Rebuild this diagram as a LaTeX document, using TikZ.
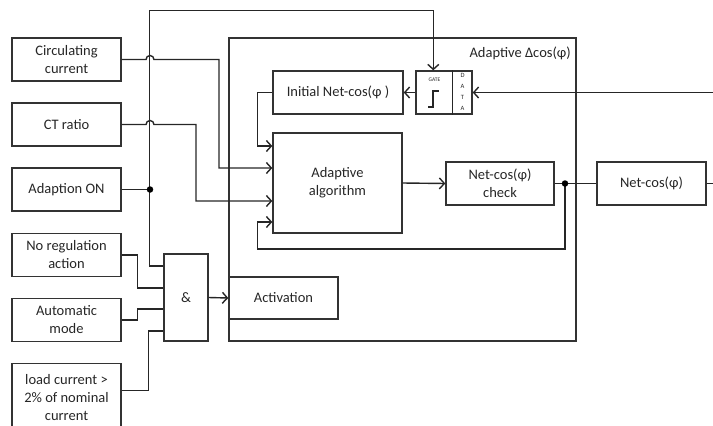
\documentclass[tikz,border=0pt]{standalone}
\usepackage{fontspec}
\setmainfont{Carlito}
\usetikzlibrary{arrows.meta,positioning,calc}

\begin{document}
\begin{tikzpicture}[x=1pt, y=-1pt, font=\fontsize{14.5}{18}\selectfont, every node/.style={inner sep=2pt, text=black!85}]
        \tikzset{
            p/.style={draw=black!80, line width=1.4pt, align=center, minimum width=109pt, minimum height=43pt},
            ln/.style={line width=1.4pt, draw=black!85},
            arr/.style={ln, -{Straight Barb[length=5pt, width=11pt]}},
            jn/.style={circle, fill=black, inner sep=0pt, minimum size=6.5pt}
        }
        \clip (0,0) rectangle (713,426);
        % inputs on the left
        \node[p] (circ) at (66.5,59.5) {Circulating\\current};
        \node[p] (ct) at (66.5,124.5) {CT ratio};
        \node[p] (adon) at (66.5,189.5) {Adaption ON};
        \node[p] (noreg) at (66.5,255) {No regulation\\action};
        \node[p] (auto) at (66.5,320) {Automatic\\mode};
        \node[p, minimum height=68pt, anchor=north] (load) at (66.5,363) {load current >\\2\% of nominal\\current};
        % adaptive block
        \node[p, minimum width=347pt, minimum height=303pt] (adp) at (402.5,189.5) {};
        \node[anchor=east] (adpt) at (573,53) {Adaptive Δcos(φ)};
        \node[p, minimum width=130pt] (init) at (338,92.5) {Initial Net-cos(φ )};
        \node[p, minimum width=56pt] (gate) at (444,92.5) {};
        \node[p, minimum width=129pt, minimum height=100pt] (alg) at (337.5,183) {Adaptive\\algorithm};
        \node[p, minimum width=108pt] (check) at (500,183.5) {Net-cos(φ)\\check};
        \node[p] (out) at (651.5,183.5) {Net-cos(φ)};
        \node[p, minimum width=44pt, minimum height=87pt] (and) at (186,297.5) {\&};
        \node[p, minimum height=42pt] (act) at (283.5,298) {Activation};
        % gate details
        \draw[ln] ($(gate.north west)+(37,0)$) -- ($(gate.south west)+(37,0)$);
        \node[font=\fontsize{5.5}{6}\selectfont] (gl) at (434.5,80) {GATE};
        \draw[line width=1.1pt, black!85] (428,107) -- (433,107) -- (433,91) -- (439,91);
        \foreach \c [count=\i] in {D,A,T,A}
            \node[font=\fontsize{6.5}{7}\selectfont, inner sep=0pt] at (462.5,64+11*\i) {\c};
        \coordinate (din) at (713,92.5);
        \coordinate (dj) at (565,183.5);
        \coordinate (aj) at (150,189.5);
        \coordinate (oe) at (713,183.5);
        % connectors
        \draw[arr] (circ.east) -- (146,59.5) arc[start angle=180, end angle=360, radius=4] -- (219,59.5) |- ($(alg.west)+(0,-15)$);
        \draw[arr] (ct.east) -- (146,124.5) arc[start angle=180, end angle=360, radius=4] -- (196,124.5) |- ($(alg.west)+(0,18)$);
        \draw[arr] (init.west) -- ++(-15,0) |- ($(alg.west)+(0,-37)$);
        \draw[arr] (dj) |- ($(alg.west)+(-15,66)$) |- ($(alg.west)+(0,39)$);
        \draw[arr] (alg.east) -- (check.west);
        \draw[ln] (check.east) -- (out.west);
        \draw[ln] (out.east) -- (oe);
        \node[jn] at (dj) {};
        \draw[arr] (din) -- (gate.east);
        \draw[arr] (gate.west) -- (init.east);
        \draw[arr] ($(and.west)+(0,-31.5)$) -- ++(-14,0) |- ($(gate.north west)+(18,-60)$) -- ($(gate.north west)+(18,0)$);
        \draw[ln] (adon.east) -- (aj);
        \node[jn] at (aj) {};
        \draw[ln] (noreg.east) -- ++(16,0) |- ($(and.west)+(0,-9.5)$);
        \draw[ln] (auto.east) -- ++(16,0) |- ($(and.west)+(0,11.5)$);
        \draw[ln] ($(load.east)+(0,-7)$) -- ++(27,0) |- ($(and.west)+(0,33.5)$);
        \draw[arr] (and.east) -- (act.west);
    \end{tikzpicture}
\end{document}
